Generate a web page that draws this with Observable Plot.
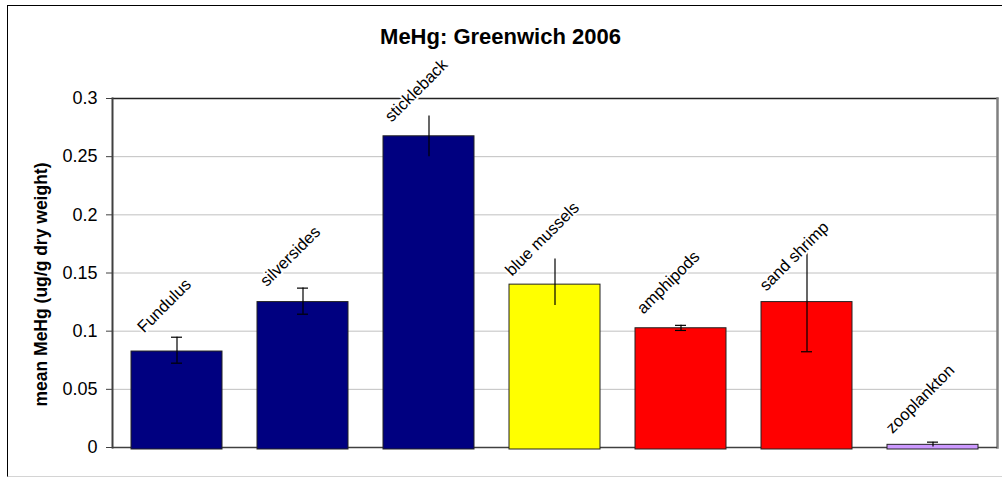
<!DOCTYPE html>
<html><head><meta charset="utf-8">
<script src="https://cdn.jsdelivr.net/npm/d3@7"></script>
<script src="https://cdn.jsdelivr.net/npm/@observablehq/plot@0.6"></script>
<style>
body{margin:0;background:#fff;}
#wrap{position:relative;width:1002px;height:477px;overflow:hidden;}
#wrap svg{position:absolute;left:0;top:0;}
#border{position:absolute;left:7px;top:4.5px;width:1010px;height:472px;border-left:1px solid #000;border-top:1.5px solid #000;border-bottom:1px solid #d4d4d4;box-sizing:border-box;pointer-events:none;}
</style></head><body><div id="wrap"><div id="border"></div></div>
<script>
const title = "MeHg: Greenwich 2006";
const yLabel = "mean MeHg (ug/g dry weight)";
const categories = ["Fundulus", "silversides", "stickleback", "blue mussels", "amphipods", "sand shrimp", "zooplankton"];
const groups = ["fish", "fish", "fish", "bivalve", "crustacean", "crustacean", "zooplankton"];
const means = [0.0825, 0.125, 0.2675, 0.140, 0.1025, 0.125, 0.0023];
const errLow = [0.0725, 0.1146, 0.250, 0.122, 0.1006, 0.0823, 0.0005];
const errHigh = [0.0948, 0.137, 0.285, 0.162, 0.105, 0.170, 0.0046];
const capLow = [true, true, false, false, true, true, false];
const capHigh = [true, true, false, false, true, false, true];
const yTicks = [0, 0.05, 0.1, 0.15, 0.2, 0.25, 0.3];
const groupDomain = ["fish", "bivalve", "crustacean", "zooplankton"];

const data = categories.map((c, i) => ({
  category: c, group: groups[i], mean: means[i], lo: errLow[i], hi: errHigh[i],
  capLo: capLow[i], capHi: capHigh[i]
}));

const chart = Plot.plot({
  width: 1002, height: 477,
  marginLeft: 112, marginRight: 5, marginTop: 98, marginBottom: 30,
  style: {fontFamily: "'Liberation Sans', Arial, sans-serif", background: "transparent", color: "#000", overflow: "visible"},
  x: {type: "band", domain: categories, paddingInner: 0.28, paddingOuter: 0.14, axis: null},
  y: {domain: [0, 0.3], axis: null},
  color: {domain: groupDomain, range: ["#000080", "#ffff00", "#ff0000", "#cc99ff"]},
  marks: [
    Plot.gridY(yTicks.filter(t => t > 0 && t < 0.3), {stroke: "#c0c0c0", strokeOpacity: 1, strokeWidth: 1}),
    Plot.axisY(yTicks, {tickSize: 6, tickPadding: 9, fontSize: 18, stroke: "#404040", label: null, tickFormat: d => String(+d.toFixed(2))}),
    Plot.frame({anchor: "top", stroke: "#222", strokeWidth: 1.5}),
    Plot.frame({anchor: "right", stroke: "#808080", strokeWidth: 2.5}),
    Plot.frame({anchor: "left", stroke: "#404040", strokeWidth: 2}),
    Plot.ruleY([0], {stroke: "#404040", strokeWidth: 1.5}),
    Plot.barY(data, {x: "category", y: "mean", fill: "group", stroke: "#222", strokeWidth: 1, insetBottom: -2}),
    Plot.ruleX(data, {x: "category", y1: "lo", y2: "hi", stroke: "#000", strokeWidth: 1.2}),
    Plot.tickY(data.filter(d => d.capLo), {x: "category", y: "lo", insetLeft: 40, insetRight: 40, stroke: "#000", strokeWidth: 1.2}),
    Plot.tickY(data.filter(d => d.capHi), {x: "category", y: "hi", insetLeft: 40, insetRight: 40, stroke: "#000", strokeWidth: 1.2}),
    Plot.text(data, {x: "category", y: "mean", text: "category", rotate: -45, textAnchor: "middle", lineAnchor: "bottom",
      dx: -9, dy: -42, fontSize: 16.5, fill: "#000", stroke: "#fff", strokeWidth: 4, paintOrder: "stroke"}),
    Plot.text([title], {text: d => d, frameAnchor: "top", textAnchor: "middle", lineAnchor: "bottom",
      dx: -54.5, dy: -55, fontSize: 22, fontWeight: "bold", fill: "#000"}),
    Plot.text([yLabel], {text: d => d, frameAnchor: "left", rotate: -90, textAnchor: "middle", lineAnchor: "middle",
      dx: -71, dy: 11.5, fontSize: 17.5, fontWeight: "bold", fill: "#000"})
  ]
});
document.getElementById("wrap").prepend(chart);
</script>
</body></html>
